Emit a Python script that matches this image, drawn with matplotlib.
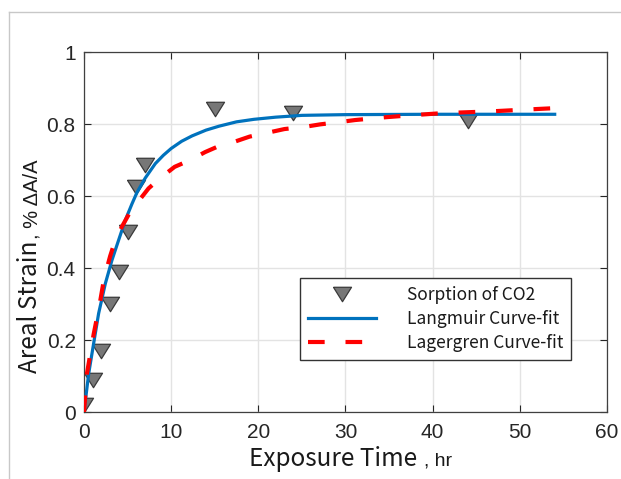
import matplotlib
matplotlib.use('Agg')
import matplotlib.pyplot as plt
from matplotlib.lines import Line2D

# measured data (triangles)
time_hr = [0, 1, 2, 3, 4, 5, 6, 7, 15, 24, 44]
strain = [0.02, 0.09, 0.17, 0.30, 0.39, 0.50, 0.625, 0.685, 0.843, 0.83, 0.808]

# Langmuir curve-fit
lang_t = [0.05, 0.54, 1.11, 1.68, 2.45, 3.21, 3.98, 4.74, 5.5, 6.08, 7.03, 8.18,
          9.1, 10.0, 11.2, 12.4, 14.0, 15.5, 17.5, 19.5, 22, 25, 30, 40, 54]
lang_y = [0.01, 0.107, 0.191, 0.274, 0.357, 0.422, 0.478, 0.533, 0.578, 0.610,
          0.650, 0.690, 0.713, 0.732, 0.752, 0.767, 0.783, 0.794, 0.806, 0.813,
          0.819, 0.824, 0.826, 0.827, 0.827]

# Lagergren curve-fit
lag_t = [0.0, 0.34, 1.1, 1.8, 2.3, 3.0, 3.6, 4.4, 5.3, 6.3, 7.4, 8.7, 10.4, 12.2,
         13.9, 15.6, 17.3, 19.0, 21.3, 23.0, 25.3, 27.1, 29.2, 31.1, 34.7, 38.0,
         41, 46.6, 50.6, 54]
lag_y = [0.0, 0.107, 0.215, 0.30, 0.37, 0.433, 0.478, 0.517, 0.556, 0.587, 0.621,
         0.649, 0.681, 0.70, 0.722, 0.74, 0.751, 0.765, 0.777, 0.786, 0.792, 0.799,
         0.805, 0.811, 0.819, 0.825, 0.83, 0.835, 0.84, 0.844]

x_ticks = [0, 10, 20, 30, 40, 50, 60]
y_ticks = [0, 0.2, 0.4, 0.6, 0.8, 1.0]
y_tick_labels = ['0', '0.2', '0.4', '0.6', '0.8', '1']

x_label_main, x_label_unit = 'Exposure Time', ', hr'
y_label_main, y_label_unit = 'Areal Strain', ', % ΔA/A'

cjk = ['Noto Sans CJK SC', 'DejaVu Sans']
latin = ['Liberation Sans', 'DejaVu Sans']
plt.rcParams['font.family'] = latin

W, H = 621, 479
fig = plt.figure(figsize=(W/100, H/100), dpi=100)
ax = fig.add_axes([84/W, 1 - 412/H, (607-84)/W, (412-52)/H])

ax.grid(True, color='#e3e3e3', linewidth=1.0, zorder=0)
ax.set_axisbelow(True)

tri = [(-1.0, 0.8), (1.0, 0.8), (0.0, -0.8), (-1.0, 0.8)]
ax.plot(time_hr, strain, linestyle='none', marker=tri, markersize=13,
        markerfacecolor='#777777', markeredgecolor='#3a3a3a', markeredgewidth=0.9,
        label='Sorption of CO2', zorder=3)
ax.plot(lang_t, lang_y, color='#0072BD', linewidth=2.3, label='Langmuir Curve-fit',
        zorder=4)
ax.plot(lag_t, lag_y, color='#FF0000', linewidth=3.0, dashes=(4, 5),
        dash_capstyle='butt', label='Lagergren Curve-fit', zorder=5)

ax.set_xlim(0, 60)
ax.set_ylim(0, 1)
ax.set_xticks(x_ticks)
ax.set_yticks(y_ticks)
ax.set_yticklabels(y_tick_labels)
ax.tick_params(direction='in', length=5, width=0.8, colors='#262626',
               labelsize=15, top=True, right=True)
ax.tick_params(axis='x', pad=8)
ax.tick_params(axis='y', pad=6)
for s in ax.spines.values():
    s.set_color('#404040')
    s.set_linewidth(0.9)

# axis titles (two fonts, as in the original)
def px(x, y):
    return x / W, 1 - y / H

fig.text(*px(249, 466), x_label_main, family=cjk, fontsize=17.5, color='#1a1a1a',
         ha='left', va='baseline')
fig.text(*px(424, 466), x_label_unit, family=latin, fontsize=14, color='#1a1a1a',
         ha='left', va='baseline')
fig.text(*px(37, 373), y_label_main, family=cjk, fontsize=17.5, color='#1a1a1a',
         ha='left', va='baseline', rotation=90, rotation_mode='anchor')
fig.text(*px(37, 239), y_label_unit, family=latin, fontsize=14.5, color='#1a1a1a',
         ha='left', va='baseline', rotation=90, rotation_mode='anchor')

leg = ax.legend(loc='upper left', bbox_to_anchor=((300-84)/523, (412-278)/360),
                prop={'family': cjk, 'size': 12.5}, frameon=True, fancybox=False,
                edgecolor='#333333', framealpha=1, borderpad=0.45,
                handlelength=3.9, handletextpad=1.8, labelspacing=0.35,
                borderaxespad=0)
leg.get_frame().set_linewidth(1.0)
for t in leg.get_texts():
    t.set_color('#1a1a1a')

# thin screenshot frame lines
fig.add_artist(Line2D([9/W, 1], [1 - 12/H, 1 - 12/H], color='#c8c8c8',
                      linewidth=1.0, transform=fig.transFigure))
fig.add_artist(Line2D([9/W, 9/W], [0, 1 - 12/H], color='#c8c8c8',
                      linewidth=1.0, transform=fig.transFigure))

fig.savefig('out.png', dpi=100)
